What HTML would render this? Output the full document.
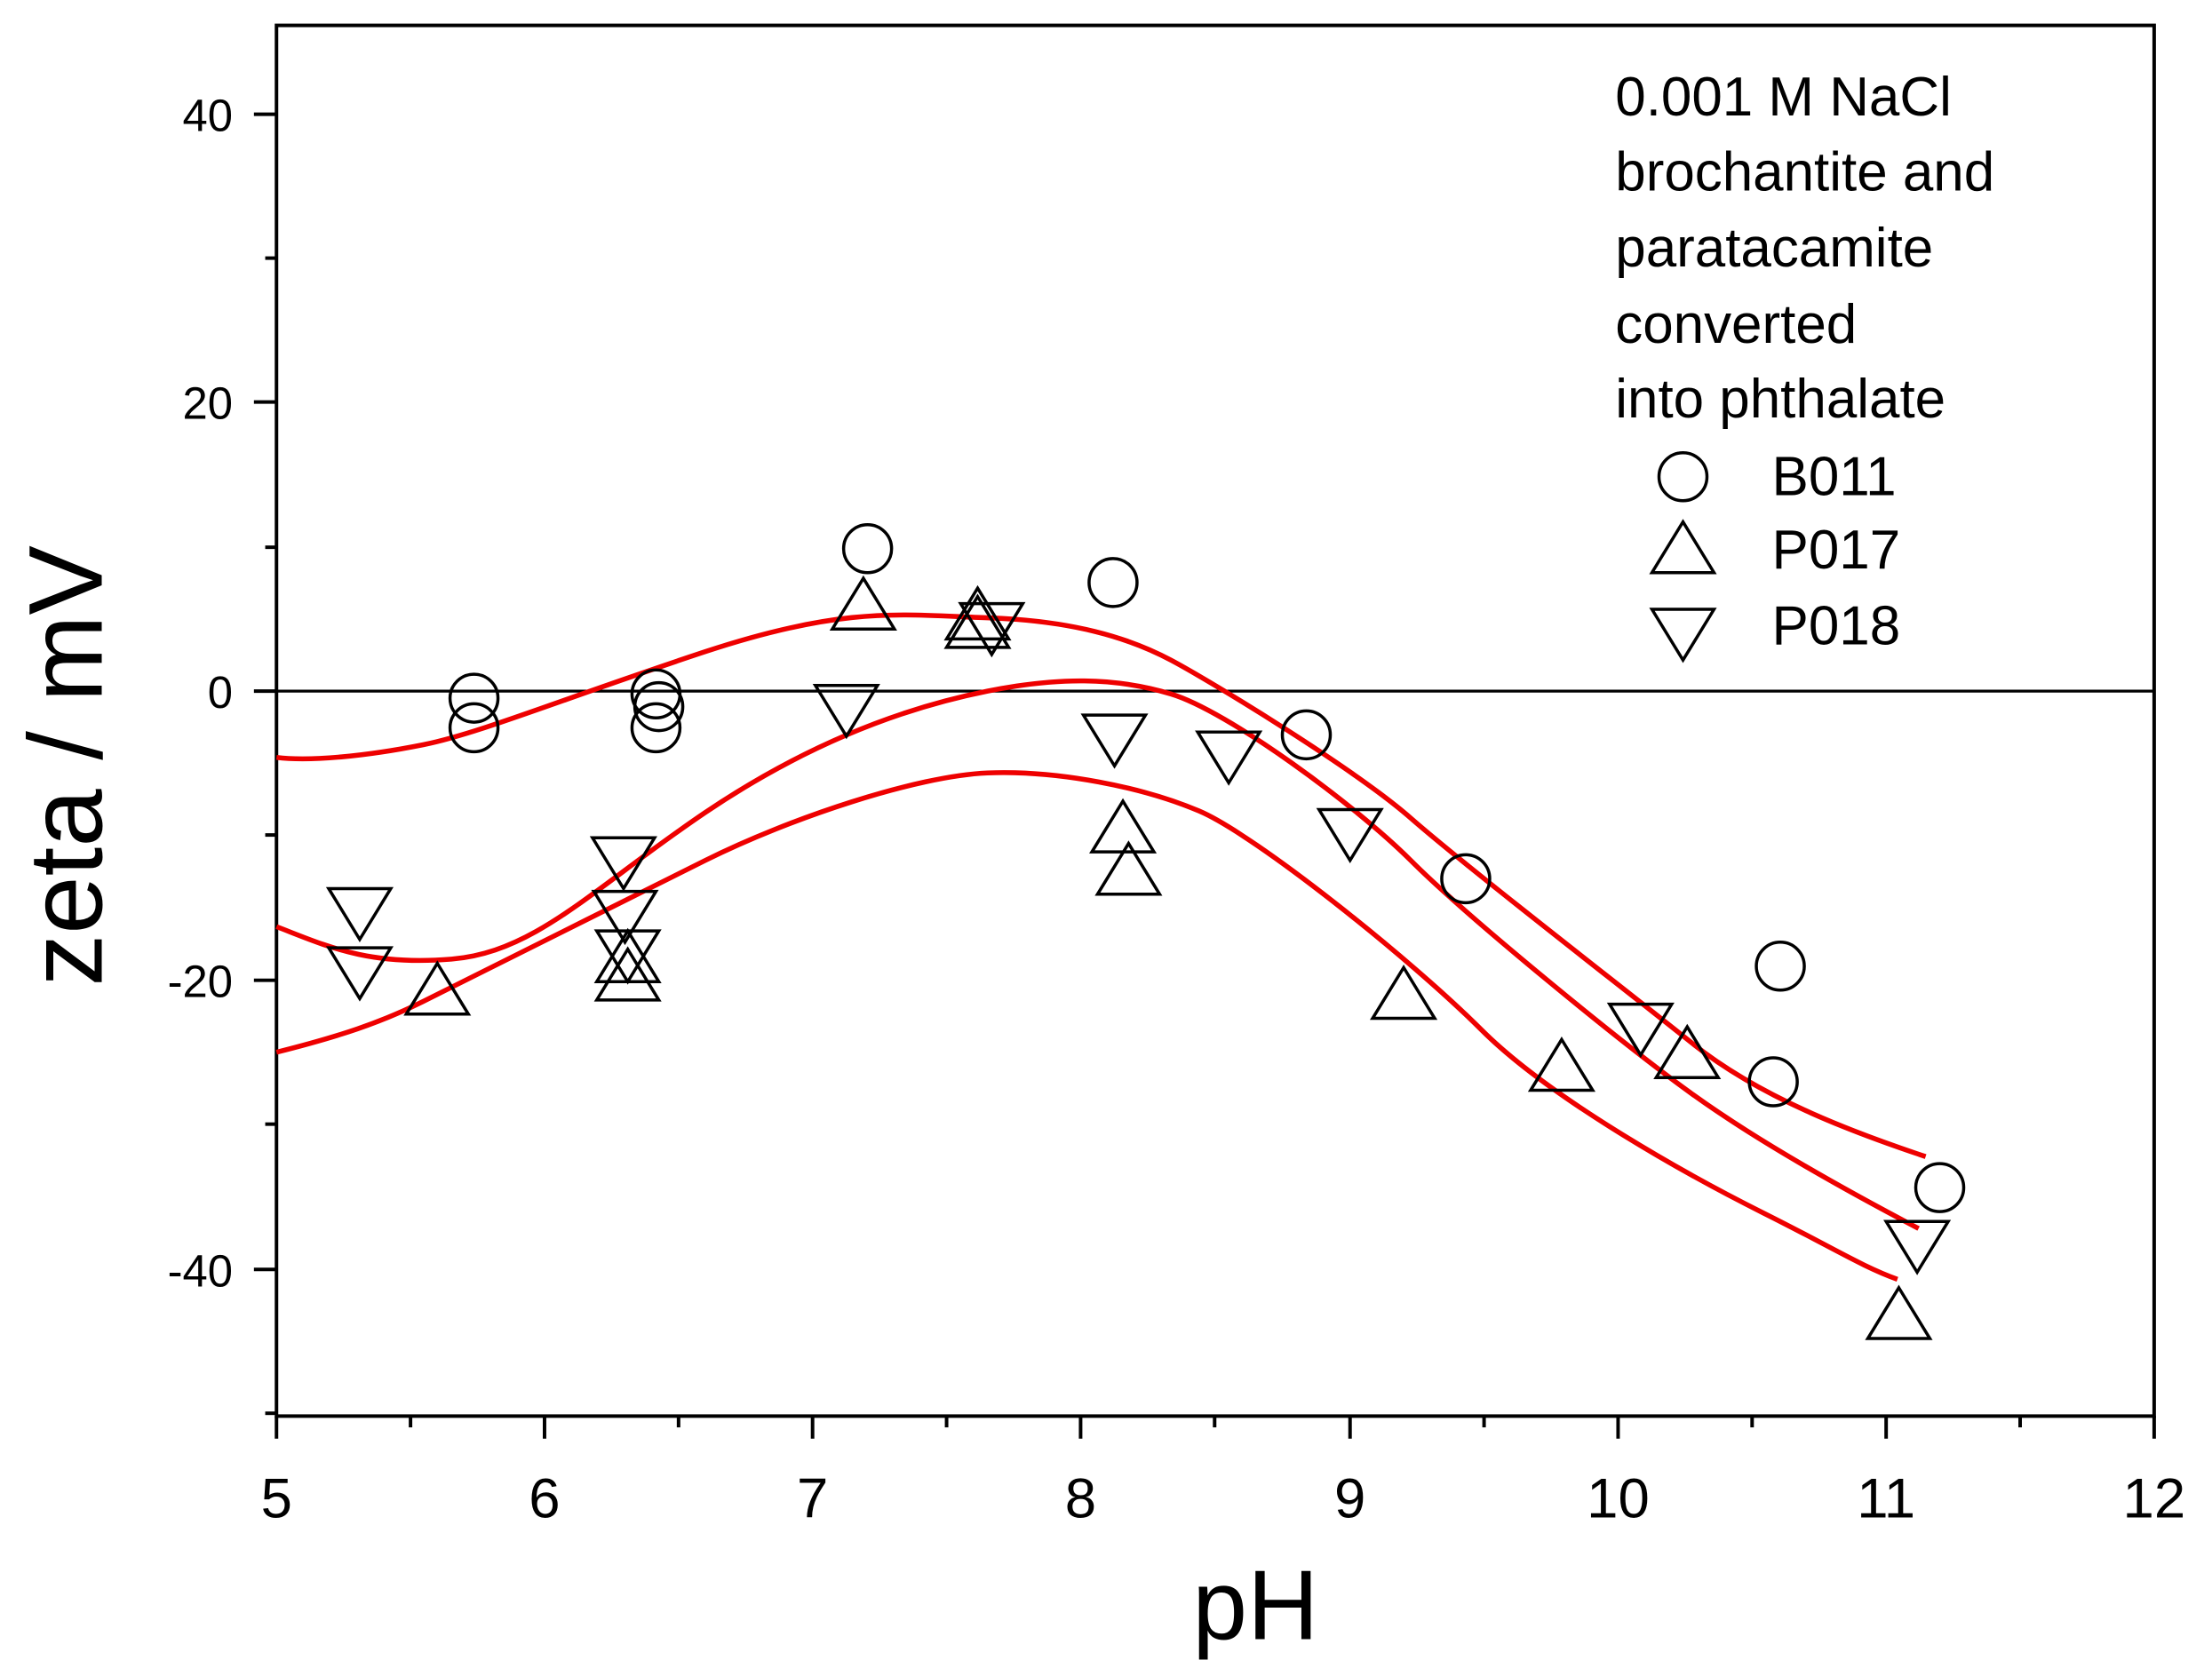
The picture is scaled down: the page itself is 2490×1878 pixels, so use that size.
<!DOCTYPE html>
<html><head><style>html,body{margin:0;padding:0;background:#fff}svg{display:block}</style></head>
<body>
<svg width="2490" height="1878" viewBox="0 0 1568 1182.6" preserveAspectRatio="none" xmlns="http://www.w3.org/2000/svg" font-family="Liberation Sans, Arial, sans-serif">
<rect x="0" y="0" width="1568" height="1182.6" fill="#fff"/>
<rect x="196" y="18" width="1331" height="986" fill="none" stroke="#000" stroke-width="2.5"/>
<line x1="196" y1="490" x2="1527" y2="490" stroke="#000" stroke-width="2"/>
<g stroke="#000" stroke-width="2.5">
<line x1="196" y1="1004" x2="196" y2="1020"/><line x1="386" y1="1004" x2="386" y2="1020"/><line x1="576" y1="1004" x2="576" y2="1020"/><line x1="766" y1="1004" x2="766" y2="1020"/><line x1="957" y1="1004" x2="957" y2="1020"/><line x1="1147" y1="1004" x2="1147" y2="1020"/><line x1="1337" y1="1004" x2="1337" y2="1020"/><line x1="1527" y1="1004" x2="1527" y2="1020"/>
<line x1="291" y1="1004" x2="291" y2="1012"/><line x1="481" y1="1004" x2="481" y2="1012"/><line x1="671" y1="1004" x2="671" y2="1012"/><line x1="861" y1="1004" x2="861" y2="1012"/><line x1="1052" y1="1004" x2="1052" y2="1012"/><line x1="1242" y1="1004" x2="1242" y2="1012"/><line x1="1432" y1="1004" x2="1432" y2="1012"/>
<line x1="180" y1="81" x2="196" y2="81"/><line x1="180" y1="285" x2="196" y2="285"/><line x1="180" y1="490" x2="196" y2="490"/><line x1="180" y1="695" x2="196" y2="695"/><line x1="180" y1="900" x2="196" y2="900"/>
<line x1="188" y1="183" x2="196" y2="183"/><line x1="188" y1="388" x2="196" y2="388"/><line x1="188" y1="592" x2="196" y2="592"/><line x1="188" y1="797" x2="196" y2="797"/><line x1="188" y1="1002" x2="196" y2="1002"/>
</g>
<g font-size="40" text-anchor="middle" fill="#000">
<text x="196" y="1076">5</text><text x="386" y="1076">6</text><text x="576" y="1076">7</text><text x="766" y="1076">8</text><text x="957" y="1076">9</text><text x="1147" y="1076">10</text><text x="1337" y="1076">11</text><text x="1527" y="1076">12</text>
</g>
<g font-size="32" text-anchor="end" fill="#000">
<text x="165" y="93">40</text><text x="165" y="297">20</text><text x="165" y="502">0</text><text x="165" y="707">-20</text><text x="165" y="912">-40</text>
</g>
<text x="890" y="1162" font-size="70" text-anchor="middle">pH</text>
<text transform="translate(72,543) rotate(-90)" font-size="74" text-anchor="middle">zeta / mV</text>
<g font-size="39" fill="#000">
<text x="1145" y="82">0.001 M NaCl</text><text x="1145" y="135">brochantite and</text><text x="1145" y="189">paratacamite</text><text x="1145" y="243">converted</text><text x="1145" y="296">into phthalate</text>
<text x="1256" y="351">B011</text><text x="1256" y="403">P017</text><text x="1256" y="457">P018</text>
</g>
<g fill="none" stroke="#e00" stroke-width="3.5">
<path d="M196,537 C220,540 260,536 300,528 S400,495 500,462 S640,436 700,438 S800,452 830,468 S960,545 1000,580 S1150,700 1200,740 S1320,805 1365,820"/>
<path d="M196,657 C230,670 260,685 320,680 S420,630 500,576 S650,500 700,490 S790,480 830,492 S960,570 1000,610 S1150,740 1200,776 S1320,850 1360,871"/>
<path d="M196,746 C240,735 270,725 300,710 S440,640 500,610 S650,550 700,548 S810,558 850,575 S1000,680 1050,730 S1200,835 1250,860 S1320,898 1345,907"/>
</g>
<g fill="none" stroke="#000" stroke-width="2.2">
<circle cx="336" cy="495" r="17"/><circle cx="336" cy="516" r="17"/><circle cx="465" cy="492" r="17"/><circle cx="465" cy="516" r="17"/><circle cx="467" cy="501" r="17"/><circle cx="615" cy="389" r="17"/><circle cx="789" cy="413" r="17"/><circle cx="926" cy="521" r="17"/><circle cx="1039" cy="623" r="17"/><circle cx="1262" cy="685" r="17"/><circle cx="1257" cy="767" r="17"/><circle cx="1375" cy="842" r="17"/>
<circle cx="1193" cy="338" r="17"/>
</g>
<g fill="none" stroke="#000" stroke-width="2.2">
<path d="M0,-20 L22,16 L-22,16 Z" transform="translate(612,430)"/>
<path d="M0,-20 L22,16 L-22,16 Z" transform="translate(693,437)"/><path d="M0,-20 L22,16 L-22,16 Z" transform="translate(693,443)"/><path d="M0,-20 L22,16 L-22,16 Z" transform="translate(796,588)"/><path d="M0,-20 L22,16 L-22,16 Z" transform="translate(800,618)"/><path d="M0,-20 L22,16 L-22,16 Z" transform="translate(445,680)"/><path d="M0,-20 L22,16 L-22,16 Z" transform="translate(445,693)"/><path d="M0,-20 L22,16 L-22,16 Z" transform="translate(310,703)"/><path d="M0,-20 L22,16 L-22,16 Z" transform="translate(995,706)"/><path d="M0,-20 L22,16 L-22,16 Z" transform="translate(1107,757)"/><path d="M0,-20 L22,16 L-22,16 Z" transform="translate(1196,748)"/><path d="M0,-20 L22,16 L-22,16 Z" transform="translate(1346,933)"/>
<path d="M0,-20 L22,16 L-22,16 Z" transform="translate(1193,390)"/>
<path d="M0,20 L22,-16 L-22,-16 Z" transform="translate(255,646)"/><path d="M0,20 L22,-16 L-22,-16 Z" transform="translate(255,688)"/><path d="M0,20 L22,-16 L-22,-16 Z" transform="translate(442,610)"/><path d="M0,20 L22,-16 L-22,-16 Z" transform="translate(443,648)"/><path d="M0,20 L22,-16 L-22,-16 Z" transform="translate(445,676)"/><path d="M0,20 L22,-16 L-22,-16 Z" transform="translate(600,502)"/><path d="M0,20 L22,-16 L-22,-16 Z" transform="translate(703,444)"/><path d="M0,20 L22,-16 L-22,-16 Z" transform="translate(790,523)"/><path d="M0,20 L22,-16 L-22,-16 Z" transform="translate(871,535)"/><path d="M0,20 L22,-16 L-22,-16 Z" transform="translate(957,590)"/><path d="M0,20 L22,-16 L-22,-16 Z" transform="translate(1163,728)"/><path d="M0,20 L22,-16 L-22,-16 Z" transform="translate(1359,882)"/>
<path d="M0,20 L22,-16 L-22,-16 Z" transform="translate(1193,448)"/>
</g>
</svg>
</body></html>
